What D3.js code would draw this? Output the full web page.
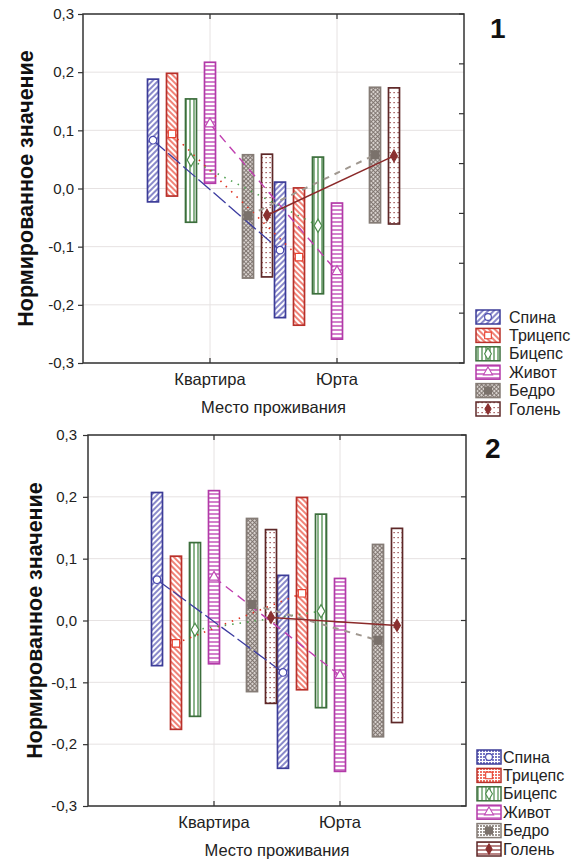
<!DOCTYPE html>
<html><head><meta charset="utf-8">
<script src="https://cdn.jsdelivr.net/npm/d3@7"></script>
<style>body{margin:0;background:#fff}svg{display:block}</style>
</head><body>
<svg id="c" width="576" height="862"></svg>
<script>
// ---------------- data ----------------
const categories = ["Квартира", "Юрта"];
const series = ["Спина", "Трицепс", "Бицепс", "Живот", "Бедро", "Голень"];
const yTickValues = [-0.3, -0.2, -0.1, 0.0, 0.1, 0.2, 0.3];
const yTitle = "Нормированное значение";
const xTitle = "Место проживания";

// chart 1 : [Квартира, Юрта] per series
const mean1  = [[0.083,-0.106],[0.094,-0.118],[0.049,-0.064],[0.111,-0.143],[-0.047,0.058],[-0.046,0.056]];
const upper1 = [[0.188,0.011],[0.198,0.001],[0.154,0.054],[0.217,-0.025],[0.058,0.174],[0.059,0.173]];
const lower1 = [[-0.023,-0.222],[-0.013,-0.235],[-0.058,-0.181],[0.009,-0.259],[-0.154,-0.059],[-0.152,-0.061]];

// chart 2
const mean2  = [[0.066,-0.084],[-0.037,0.044],[-0.015,0.015],[0.070,-0.089],[0.026,-0.032],[0.005,-0.008]];
const upper2 = [[0.207,0.073],[0.104,0.199],[0.126,0.172],[0.210,0.068],[0.165,0.123],[0.147,0.149]];
const lower2 = [[-0.073,-0.239],[-0.176,-0.112],[-0.155,-0.141],[-0.070,-0.244],[-0.115,-0.188],[-0.134,-0.165]];

// ---------------- styles ----------------
const styles = {
  "Спина":   {stroke:"#3c3c98", fill:"#4a4aae", pat:"up",    line:"#3c3ca0", dash:"16,4", w:1.3, sym:d3.symbolCircle,  filled:false, size:45},
  "Трицепс": {stroke:"#b8302a", fill:"#e8402e", pat:"down",  line:"#e03020", dash:"1.5,6", w:1.6, sym:d3.symbolSquare,  filled:false, size:55},
  "Бицепс":  {stroke:"#3c6e3c", fill:"#4c8c4c", pat:"vert",  line:"#50a050", dash:"1.5,6", w:1.6, sym:d3.symbolDiamond, filled:false, size:50},
  "Живот":   {stroke:"#b23aa8", fill:"#c04ab6", pat:"horiz", line:"#c040b0", dash:"9,6",  w:1.4, sym:d3.symbolTriangle,filled:false, size:45},
  "Бедро":   {stroke:"#857c76", fill:"#7a716b", pat:"cross", line:"#a09890", dash:"6,6",  w:2,   sym:d3.symbolSquare,  filled:true,  size:60},
  "Голень":  {stroke:"#5e2828", fill:"#8a3030", pat:"dots",  line:"#8b2a2a", dash:null,   w:1.5, sym:d3.symbolDiamond, filled:true,  size:40}
};

const svg = d3.select("#c");
const defs = svg.append("defs");
const FONT = "Liberation Sans, Arial, sans-serif";

function makePattern(id, kind, color) {
  const p = defs.append("pattern").attr("id", id).attr("patternUnits", "userSpaceOnUse");
  if (kind === "up" || kind === "down") {
    p.attr("width", 4).attr("height", 4).attr("patternTransform", `rotate(${kind === "up" ? 45 : -45})`);
    p.append("rect").attr("width", 4).attr("height", 4).attr("fill", "#fff");
    p.append("line").attr("x1", 1).attr("x2", 1).attr("y1", 0).attr("y2", 4).attr("stroke", color).attr("stroke-width", 1.3);
  } else if (kind === "vert") {
    p.attr("width", 4).attr("height", 4);
    p.append("rect").attr("width", 4).attr("height", 4).attr("fill", "#fff");
    p.append("line").attr("x1", 2).attr("x2", 2).attr("y1", 0).attr("y2", 4).attr("stroke", color).attr("stroke-width", 1.3);
  } else if (kind === "horiz") {
    p.attr("width", 4).attr("height", 4);
    p.append("rect").attr("width", 4).attr("height", 4).attr("fill", "#fff");
    p.append("line").attr("x1", 0).attr("x2", 4).attr("y1", 2).attr("y2", 2).attr("stroke", color).attr("stroke-width", 1.4);
  } else if (kind === "cross") {
    p.attr("width", 3).attr("height", 3).attr("patternTransform", "rotate(45)");
    p.append("rect").attr("width", 3).attr("height", 3).attr("fill", "#d8d2ce");
    p.append("line").attr("x1", 0).attr("x2", 3).attr("y1", 0.5).attr("y2", 0.5).attr("stroke", color).attr("stroke-width", 0.9);
    p.append("line").attr("x1", 0.5).attr("x2", 0.5).attr("y1", 0).attr("y2", 3).attr("stroke", color).attr("stroke-width", 0.9);
  } else if (kind === "dots") {
    p.attr("width", 4).attr("height", 5);
    p.append("rect").attr("width", 4).attr("height", 5).attr("fill", "#fff");
    p.append("rect").attr("x", 1.5).attr("y", 2).attr("width", 1.2).attr("height", 1.2).attr("fill", color);
  }
}
series.forEach((s, i) => makePattern("pat" + i, styles[s].pat, styles[s].fill));

// legend-2 swatch patterns (lighter textures)
function makeLegPattern(id, kind, color) {
  const p = defs.append("pattern").attr("id", id).attr("patternUnits", "userSpaceOnUse").attr("width", 3).attr("height", 3);
  p.append("rect").attr("width", 3).attr("height", 3).attr("fill", "#fff");
  if (kind === "vert") {
    p.attr("width", 4); p.select("rect").attr("width", 4);
    p.append("line").attr("x1", 2).attr("x2", 2).attr("y1", 0).attr("y2", 3).attr("stroke", color).attr("stroke-width", 1.2);
  } else if (kind === "horiz") {
    p.attr("height", 4); p.select("rect").attr("height", 4);
    p.append("line").attr("x1", 0).attr("x2", 3).attr("y1", 2).attr("y2", 2).attr("stroke", color).attr("stroke-width", 1.2);
  } else {
    p.append("rect").attr("width", 2).attr("height", 2).attr("fill", color).attr("opacity", 0.75);
  }
}
const legKinds = ["grid", "grid", "vert", "horiz", "grid", "horiz"];
series.forEach((s, i) => makeLegPattern("leg" + i, legKinds[i], styles[s].fill));

function fmt(v) { return v.toFixed(1).replace(".", ","); }

function drawChart(cfg, mean, upper, lower) {
  const g = svg.append("g");
  const x = d3.scaleLinear().domain([0, categories.length + 1]).range([cfg.left, cfg.right]);
  const y = d3.scaleLinear().domain([-0.3, 0.3]).range([cfg.bottom, cfg.top]);
  const slots = [...series.slice(0, 4), "_gap", ...series.slice(4)];
  const off = d3.scalePoint().domain(slots).range([-57, 57]);
  const cx = (ci, s) => x(ci + 1) + off(s);

  // grid
  g.append("g").selectAll("line").data(yTickValues).join("line")
    .attr("x1", cfg.left).attr("x2", cfg.right).attr("y1", d => y(d)).attr("y2", d => y(d))
    .attr("stroke", "#e6e2e2").attr("stroke-width", 1);
  g.append("g").selectAll("line").data(categories).join("line")
    .attr("x1", (d, i) => x(i + 1)).attr("x2", (d, i) => x(i + 1)).attr("y1", cfg.top).attr("y2", cfg.bottom)
    .attr("stroke", "#e6e2e2").attr("stroke-width", 1);

  // bars
  const bw = 11;
  series.forEach((s, si) => {
    categories.forEach((c, ci) => {
      g.append("rect")
        .attr("x", cx(ci, s) - bw / 2).attr("width", bw)
        .attr("y", y(upper[si][ci])).attr("height", y(lower[si][ci]) - y(upper[si][ci]))
        .attr("fill", `url(#pat${si})`).attr("stroke", styles[s].stroke).attr("stroke-width", 1.7);
    });
  });

  // lines
  series.forEach((s, si) => {
    const st = styles[s];
    const ln = g.append("line")
      .attr("x1", cx(0, s)).attr("y1", y(mean[si][0]))
      .attr("x2", cx(1, s)).attr("y2", y(mean[si][1]))
      .attr("stroke", st.line).attr("stroke-width", st.w);
    if (st.dash) ln.attr("stroke-dasharray", st.dash);
  });

  // markers
  series.forEach((s, si) => {
    const st = styles[s];
    categories.forEach((c, ci) => {
      g.append("path")
        .attr("d", d3.symbol().type(st.sym).size(st.size)())
        .attr("transform", `translate(${cx(ci, s)},${y(mean[si][ci])})`)
        .attr("fill", st.filled ? st.fill : "#fff")
        .attr("stroke", st.fill).attr("stroke-width", 1.2);
    });
  });

  // frame
  g.append("rect").attr("x", cfg.left).attr("y", cfg.top)
    .attr("width", cfg.right - cfg.left).attr("height", cfg.bottom - cfg.top)
    .attr("fill", "none").attr("stroke", "#333").attr("stroke-width", 1.5);

  // left axis
  const la = g.append("g").attr("transform", `translate(${cfg.left},0)`)
    .call(d3.axisLeft(y).tickValues(yTickValues).tickFormat(fmt).tickSize(5).tickPadding(cfg.pad));
  la.select(".domain").remove();
  la.selectAll("line").attr("stroke", "#333").attr("stroke-width", 1.2);
  la.selectAll("text").attr("font-family", FONT).attr("font-size", 15).attr("fill", "#222");

  // right ticks (inward)
  const rt = d3.range(cfg.rightTicks).map(k => cfg.top + k * (cfg.bottom - cfg.top) / (cfg.rightTicks - 1));
  g.append("g").selectAll("line").data(rt).join("line")
    .attr("x1", cfg.right - 5).attr("x2", cfg.right).attr("y1", d => d).attr("y2", d => d)
    .attr("stroke", "#333").attr("stroke-width", 1.2);

  // top & bottom ticks (inward)
  categories.forEach((c, i) => {
    g.append("line").attr("x1", x(i + 1)).attr("x2", x(i + 1)).attr("y1", cfg.top).attr("y2", cfg.top + 5)
      .attr("stroke", "#333").attr("stroke-width", 1.2);
    g.append("line").attr("x1", x(i + 1)).attr("x2", x(i + 1)).attr("y1", cfg.bottom - 5).attr("y2", cfg.bottom)
      .attr("stroke", "#333").attr("stroke-width", 1.2);
    g.append("text").attr("x", x(i + 1)).attr("y", cfg.bottom + 22).attr("text-anchor", "middle")
      .attr("font-family", FONT).attr("font-size", 16.5).attr("fill", "#222").text(c);
  });

  g.append("text").attr("x", (cfg.left + cfg.right) / 2).attr("y", cfg.bottom + 50)
    .attr("text-anchor", "middle").attr("font-family", FONT).attr("font-size", 16.5).attr("fill", "#222").text(xTitle);

  g.append("text").attr("transform", `translate(${cfg.titleX},${(cfg.top + cfg.bottom) / 2}) rotate(-90)`)
    .attr("text-anchor", "middle").attr("font-family", FONT).attr("font-size", 21.5).attr("font-weight", "bold")
    .attr("fill", "#111").text(yTitle);

  g.append("text").attr("x", cfg.numX).attr("y", cfg.numY).attr("font-family", FONT)
    .attr("font-size", 28).attr("font-weight", "bold").attr("fill", "#111").text(cfg.num);

  // legend
  const lg = g.append("g");
  series.forEach((s, si) => {
    const st = styles[s];
    const yy = cfg.legY + si * 18.4;
    lg.append("rect").attr("x", cfg.legX).attr("y", yy - 7).attr("width", 24).attr("height", 14)
      .attr("fill", cfg.legPat ? `url(#leg${si})` : `url(#pat${si})`)
      .attr("stroke", st.stroke).attr("stroke-width", 1.5);
    lg.append("path").attr("d", d3.symbol().type(st.sym).size(st.size * 0.8)())
      .attr("transform", `translate(${cfg.legX + 12},${yy})`)
      .attr("fill", st.filled ? st.fill : "#fff").attr("stroke", st.fill).attr("stroke-width", 1.1);
    lg.append("text").attr("x", cfg.legTextX).attr("y", yy + 5.5).attr("font-family", FONT)
      .attr("font-size", 16).attr("fill", "#222").text(s);
  });
}

drawChart({left:83, right:464, top:14, bottom:363, pad:4, rightTicks:8, titleX:33, num:"1", numX:490, numY:38,
           legX:476, legY:317, legTextX:509, legPat:false}, mean1, upper1, lower1);
drawChart({left:88, right:466, top:435, bottom:806, pad:6, rightTicks:7, titleX:42, num:"2", numX:485, numY:458,
           legX:477, legY:757, legTextX:503, legPat:true}, mean2, upper2, lower2);
</script>
</body></html>
